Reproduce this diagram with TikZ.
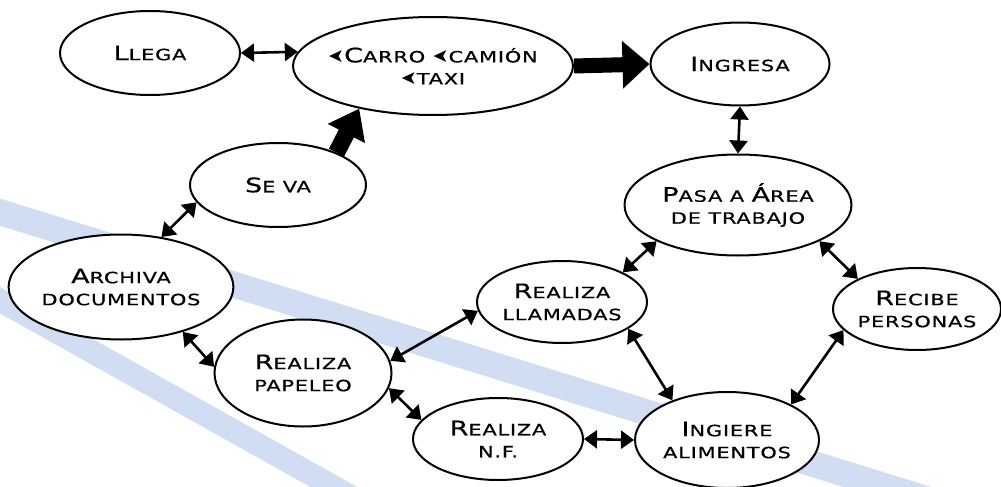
\documentclass[tikz,border=0pt]{standalone}
\usepackage{fontspec}
\newfontfamily\capfont[FakeStretch=1.35,LetterSpace=5,FakeBold=0.6]{DejaVu Sans}
\newfontfamily\symfont{DejaVu Sans}
\usetikzlibrary{arrows.meta,shapes.geometric}
\definecolor{bandblue}{RGB}{208,221,243}
\newcommand{\Bg}[1]{{\fontsize{20}{22}\selectfont #1}}
\newcommand{\Ico}{{\symfont\fontsize{19}{19}\selectfont\reflectbox{➤}}}
\tikzset{
  bub/.style={ellipse, draw, line width=2pt, fill=white, inner sep=0pt, align=center,
    font=\capfont\fontsize{15.5}{22}\selectfont},
  dbl/.style={line width=2.6pt, {Triangle[length=13pt,width=18pt]}-{Triangle[length=13pt,width=18pt]}},
  fat/.style={line width=15pt, -{Triangle[length=27pt,width=46pt]}},
}
\begin{document}
\begin{tikzpicture}[x=1pt,y=-1pt]
\useasboundingbox (0,0) rectangle (1001,487);
\fill[white] (0,0) rectangle (1001,487);
\begin{scope}
  \clip (0,0) rectangle (1001,487);
  \draw[bandblue, line width=26pt] (-20,206) -- (1020,528);
  \draw[bandblue, line width=23pt] (-20,289) -- (400,524);
\end{scope}

\node[bub, minimum width=180pt, minimum height=84pt] (llega) at (150,53) {\Bg{L}LEGA};
\node[bub, minimum width=280pt, minimum height=98pt, inner xsep=-12pt] (carro) at (433,66) {\Ico\Bg{C}ARRO \Ico CAMIÓN\\\Ico TAXI};
\node[bub, minimum width=179pt, minimum height=83pt] (ingresa) at (740,64) {\Bg{I}NGRESA};
\node[bub, minimum width=227pt, minimum height=101pt] (pasa) at (738,205) {\Bg{P}ASA A \Bg{Á}REA\\DE TRABAJO};
\node[bub, minimum width=170pt, minimum height=82pt] (llamadas) at (562,302) {\Bg{R}EALIZA\\LLAMADAS};
\node[bub, minimum width=168pt, minimum height=82pt] (recibe) at (917,309) {\Bg{R}ECIBE\\PERSONAS};
\node[bub, minimum width=184pt, minimum height=96pt] (ingiere) at (727,440) {\Bg{I}NGIERE\\ALIMENTOS};
\node[bub, minimum width=170pt, minimum height=82pt] (nf) at (498,439) {\Bg{R}EALIZA\\N.F.};
\node[bub, minimum width=177pt, minimum height=107pt] (papeleo) at (303,373) {\Bg{R}EALIZA\\PAPELEO};
\node[bub, minimum width=218pt, minimum height=105pt] (archiva) at (121,287) {\Bg{A}RCHIVA\\DOCUMENTOS};
\node[bub, minimum width=176pt, minimum height=84pt] (seva) at (278,185) {\Bg{S}E VA};

\draw[fat] (carro.east) -- (ingresa.west);
\draw[line width=17pt, -{Triangle[length=28pt,width=40pt]}] (seva.29) -- (carro.210);

\draw[dbl] (llega.0) -- (carro.174);
\draw[dbl] (ingresa.south) -- (pasa.north);
\draw[dbl] (seva.192) -- (archiva.51);
\draw[dbl] (archiva.-36) -- (papeleo.176);
\draw[dbl] (papeleo.8) -- (llamadas.186);
\draw[dbl] (papeleo.-10) -- (nf.166);
\draw[dbl] (nf.0) -- (ingiere.180);
\draw[dbl] (llamadas.26.6) -- (pasa.204);
\draw[dbl] (llamadas.-22) -- (ingiere.144);
\draw[dbl] (pasa.-24) -- (recibe.153);
\draw[dbl] (recibe.196) -- (ingiere.29.5);
\end{tikzpicture}
\end{document}
